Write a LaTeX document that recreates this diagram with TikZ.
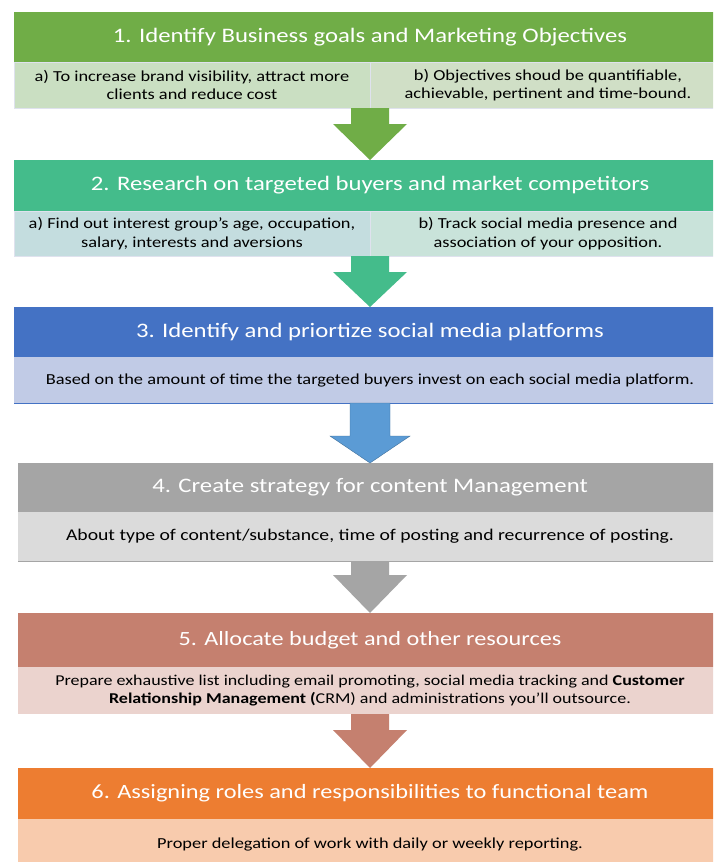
\documentclass[tikz,border=0pt]{standalone}
\usepackage{fontspec}
\setmainfont{Carlito}[FakeStretch=1.2]
\usetikzlibrary{positioning,calc}

\definecolor{hdgreen}{HTML}{70AD47}
\definecolor{hdteal}{HTML}{44BC8B}
\definecolor{hdblue}{HTML}{4472C4}
\definecolor{hdgray}{HTML}{A5A5A5}
\definecolor{hdbrown}{HTML}{C5806F}
\definecolor{hdorange}{HTML}{ED7D31}
\definecolor{subgreen}{HTML}{CADFC2}
\definecolor{subgreenb}{HTML}{D0DFC6}
\definecolor{subtealA}{HTML}{C4DDDF}
\definecolor{subtealB}{HTML}{C9E3DA}
\definecolor{subblue}{HTML}{C1CBE6}
\definecolor{subgray}{HTML}{DBDBDB}
\definecolor{subbrown}{HTML}{EBD3CE}
\definecolor{suborange}{HTML}{F8CBAD}
\definecolor{arrblue}{HTML}{5B9BD5}
\definecolor{arrblueline}{HTML}{41719C}
\definecolor{cellline}{HTML}{DFE2EE}

\tikzset{
    head/.style={minimum width=712pt, minimum height=50pt, inner sep=0pt,
        outer sep=0pt, text=white, font=\fontsize{20.6}{24}\selectfont},
    sub/.style={minimum width=712pt, minimum height=46pt, inner sep=0pt,
        outer sep=0pt, align=center, text=black,
        font=\fontsize{15.3}{18.3}\selectfont},
    half/.style={sub, minimum width=356pt, draw=cellline, thin},
    arrgreen/.style={fill=hdgreen},
    arrteal/.style={fill=hdteal},
    arrblue/.style={fill=arrblue, draw=arrblueline, thin},
    arrgray/.style={fill=hdgray},
    arrbrown/.style={fill=hdbrown},
}

\begin{document}
\begin{tikzpicture}[x=1pt, y=-1pt]
    \clip (0,0) rectangle (713,862);
    \fill[white] (0,0) rectangle (713,862);

    % step 1
    \node[head, fill=hdgreen] (hd1) at (370,37)
        {1. Identify Business goals and Marketing Objectives};
    \node[half, fill=subgreen, anchor=north west] (s1a) at (hd1.south west)
        {a) To increase brand visibility, attract more\\clients and reduce cost};
    \node[half, fill=subgreenb, anchor=north west] (s1b) at (s1a.north east)
        {b) Objectives shoud be quantifiable,\\achievable, pertinent and time-bound.};

    % step 2
    \node[head, fill=hdteal, minimum height=51pt] (hd2) at (370,185.5)
        {2. Research on targeted buyers and market competitors};
    \node[half, fill=subtealA, minimum height=45pt, anchor=north west] (s2a) at (hd2.south west)
        {a) Find out interest group's age, occupation,\\salary, interests and aversions};
    \node[half, fill=subtealB, minimum height=45pt, anchor=north west] (s2b) at (s2a.north east)
        {b) Track social media presence and\\association of your opposition.};

    % step 3
    \node[head, fill=hdblue] (hd3) at (370,332)
        {3. Identify and priortize social media platforms};
    \node[sub, fill=subblue, below=0pt of hd3] (s3)
        {Based on the amount of time the targeted buyers invest on each social media platform.};
    \draw[hdblue, thin] (s3.south west) -- (s3.south east);

    % step 4
    \node[head, fill=hdgray, minimum width=704pt, minimum height=49pt] (hd4) at (370,487.5)
        {4. Create strategy for content Management};
    \node[sub, fill=subgray, minimum width=704pt, minimum height=49pt, below=0pt of hd4,
        font=\fontsize{16.4}{19.5}\selectfont] (s4)
        {About type of content/substance, time of posting and recurrence of posting.};
    \draw[hdgray, thin] (s4.south west) -- (s4.south east);

    % step 5
    \node[head, fill=hdbrown, minimum width=704pt, minimum height=54pt,
        font=\fontsize{20.2}{24}\selectfont] (hd5) at (370,640)
        {5. Allocate budget and other resources};
    \node[sub, fill=subbrown, minimum width=704pt, minimum height=47pt, below=0pt of hd5,
        font=\fontsize{15}{18.3}\selectfont] (s5)
        {Prepare exhaustive list including email promoting, social media tracking and \textbf{Customer}\\
         \textbf{Relationship Management (}CRM) and administrations you'll outsource.};

    % step 6
    \node[head, fill=hdorange, minimum width=704pt, minimum height=51pt,
        font=\fontsize{20.3}{24}\selectfont] (hd6) at (370,793.5)
        {6. Assigning roles and responsibilities to functional team};
    \node[sub, fill=suborange, minimum width=704pt, minimum height=50pt, below=0pt of hd6] (s6)
        {Proper delegation of work with daily or weekly reporting.};

    % block arrows: from / to / style / head length / head half width / shaft half width
    \foreach \from/\to/\sty/\hl/\hw/\sw in {
        s1b.south west/hd2/arrgreen/36/37/19,
        s2b.south west/hd3/arrteal/35/37/19,
        s3.south/hd4/arrblue/27/40/20,
        s4.south/hd5/arrgray/38/37/19,
        s5.south/hd6/arrbrown/38/37/19
    } {
        \path[\sty]
            ($(\from)+(-\sw,0)$) -- ($(\from)+(\sw,0)$)
            -- ($(\to.north)+(\sw,-\hl)$) -- ($(\to.north)+(\hw,-\hl)$)
            -- (\to.north)
            -- ($(\to.north)+(-\hw,-\hl)$) -- ($(\to.north)+(-\sw,-\hl)$) -- cycle;
    }
\end{tikzpicture}
\end{document}
